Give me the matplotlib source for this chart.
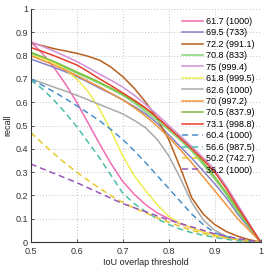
import matplotlib
matplotlib.use("Agg")
import matplotlib.pyplot as plt

plt.rcParams['font.family'] = ['Liberation Sans', 'DejaVu Sans']

thresholds = [0.5, 0.525, 0.55, 0.575, 0.6, 0.625, 0.65, 0.675, 0.7, 0.725, 0.75,
              0.775, 0.8, 0.825, 0.85, 0.875, 0.9, 0.925, 0.95, 0.975, 1.0]

labels = ["61.7 (1000)", "69.5 (733)", "72.2 (991.1)", "70.8 (833)", "75 (999.4)",
          "61.8 (999.5)", "62.6 (1000)", "70 (997.2)", "70.5 (837.9)", "73.1 (998.8)",
          "60.4 (1000)", "56.6 (987.5)", "50.2 (742.7)", "36.2 (1000)"]

pink = [.86, .81, .75, .68, .60, .51, .42, .335, .26, .205, .16, .125, .10, .078, .06, .044, .03, .018, .01, .004, 0]
slate = [.785, .768, .75, .731, .71, .686, .66, .636, .61, .582, .55, .51, .46, .41, .36, .305, .25, .19, .12, .06, 0]
brown = [.855, .843, .83, .82, .81, .797, .78, .75, .71, .66, .60, .53, .44, .32, .19, .12, .075, .045, .025, .01, 0]
lightgreen = [.81, .79, .77, .748, .725, .703, .68, .656, .63, .597, .56, .522, .48, .437, .39, .333, .27, .205, .13, .065, 0]
orchid = [.86, .84, .82, .798, .775, .748, .72, .694, .665, .63, .59, .547, .50, .456, .41, .362, .31, .24, .16, .08, 0]
yellow = [.80, .788, .77, .74, .70, .645, .57, .475, .37, .285, .22, .16, .11, .08, .06, .043, .03, .018, .01, .004, 0]
gray = [.70, .683, .665, .648, .63, .61, .59, .57, .55, .522, .49, .44, .37, .275, .17, .095, .05, .025, .01, .004, 0]
orange = [.80, .78, .76, .738, .715, .69, .665, .638, .61, .577, .54, .497, .45, .397, .34, .28, .22, .16, .10, .05, 0]
green = [.815, .795, .775, .753, .73, .708, .685, .66, .635, .604, .57, .532, .49, .447, .40, .343, .28, .213, .14, .07, 0]
red = [.835, .818, .80, .78, .76, .731, .70, .671, .64, .609, .575, .535, .49, .446, .40, .353, .30, .23, .15, .075, 0]
blue_d = [.70, .673, .645, .616, .585, .553, .52, .482, .44, .392, .34, .285, .23, .175, .12, .075, .04, .022, .01, .004, 0]
teal_d = [.695, .658, .61, .555, .495, .428, .36, .285, .21, .165, .13, .10, .075, .055, .04, .029, .02, .012, .005, .002, 0]
yellow_d = [.47, .424, .38, .338, .30, .264, .23, .198, .17, .146, .125, .104, .085, .067, .05, .037, .025, .017, .01, .004, 0]
purple_d = [.335, .315, .295, .275, .255, .232, .21, .187, .165, .147, .13, .112, .095, .08, .065, .05, .035, .025, .015, .007, 0]

series = [pink, slate, brown, lightgreen, orchid, yellow, gray, orange, green, red,
          blue_d, teal_d, yellow_d, purple_d]
colors = ["#f06cb4", "#8282c4", "#b8611f", "#84d476", "#d290d8", "#eeee52",
          "#aaaaaa", "#f0943e", "#7cbf3a", "#e8402c", "#4a8fcc", "#4cbfa8",
          "#e8c82a", "#9a55b8"]
styles = ["-"] * 10 + [(0, (4, 2.6))] * 4

xticks = [0.5, 0.6, 0.7, 0.8, 0.9, 1.0]
xticklabels = ["0.5", "0.6", "0.7", "0.8", "0.9", "1"]
yticks = [0, 0.1, 0.2, 0.3, 0.4, 0.5, 0.6, 0.7, 0.8, 0.9, 1.0]
yticklabels = ["0", "0.1", "0.2", "0.3", "0.4", "0.5", "0.6", "0.7", "0.8", "0.9", "1"]

fig = plt.figure(figsize=(2.66, 2.67), dpi=100)
ax = fig.add_axes([30.7 / 266, 25 / 267, 230 / 266, 233 / 267])

for vals, c, ls, lab in zip(series, colors, styles, labels):
    ax.plot(thresholds, vals, color=c, linestyle=ls, linewidth=1.1, label=lab)

ax.set_xlim(0.5, 1.0)
ax.set_ylim(0, 1.0)
ax.set_xticks(xticks)
ax.set_xticklabels(xticklabels)
ax.set_yticks(yticks)
ax.set_yticklabels(yticklabels)
ax.tick_params(labelsize=6.5, direction='in', length=2, width=0.6, colors='#333333', pad=2)
ax.tick_params(axis='x', pad=3.5)
ax.grid(True, linestyle=(0, (1, 2.5)), color='#b0b0b0', linewidth=0.6)
ax.set_axisbelow(True)
for s in ['top', 'right']:
    ax.spines[s].set_visible(False)
for s in ['left', 'bottom']:
    ax.spines[s].set_linewidth(0.8)
    ax.spines[s].set_color('#333333')

ax.set_xlabel("IoU overlap threshold", fontsize=6.5, labelpad=1.5, color='#222222')
ax.set_ylabel("recall", fontsize=6.5, labelpad=2, color='#222222')

leg = ax.legend(loc='upper right', bbox_to_anchor=(256 / 266, 1 - 16 / 267),
                bbox_transform=fig.transFigure, fontsize=6.5, frameon=False,
                handlelength=2.3, handletextpad=0.35, labelspacing=0.27,
                borderpad=0.1, borderaxespad=0)

fig.savefig("out.png", dpi=100)
